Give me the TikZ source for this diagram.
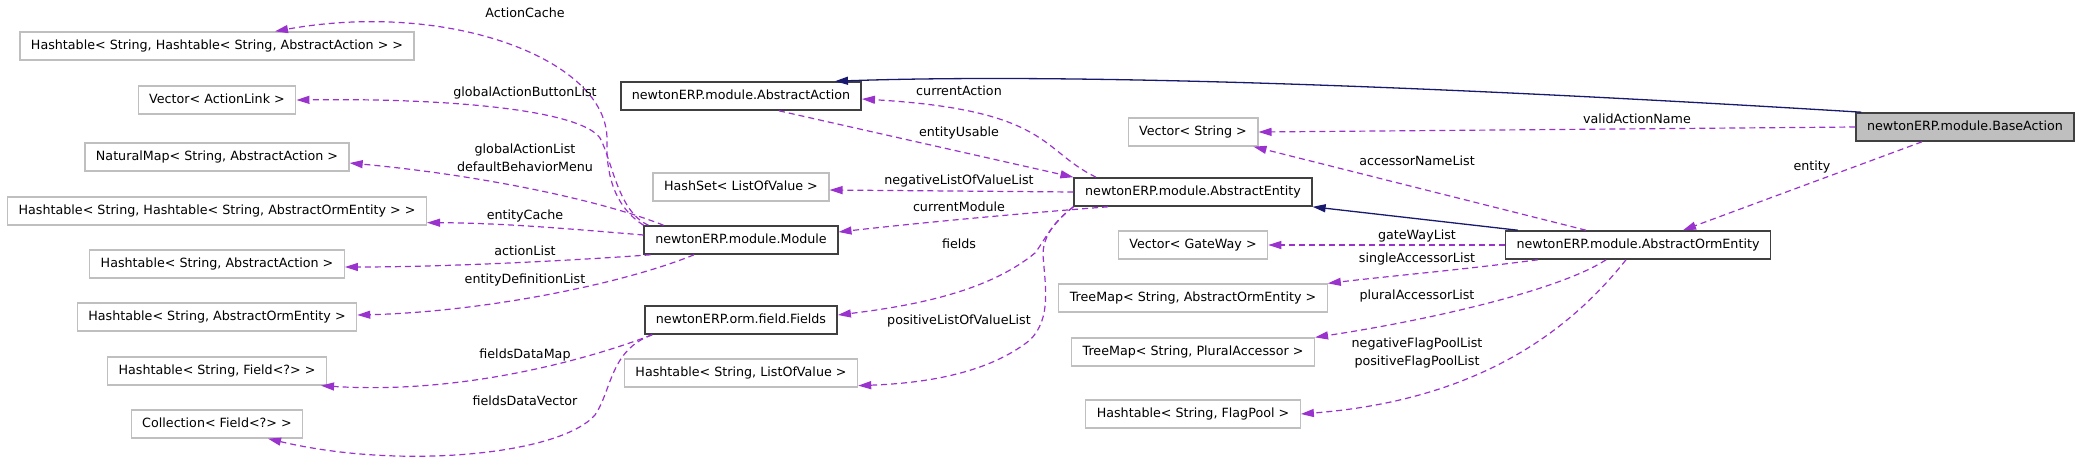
\documentclass[tikz,border=0pt]{standalone}
\usepackage{fontspec}
\setmainfont{DejaVu Sans}
\usetikzlibrary{arrows.meta}
\definecolor{edgepurple}{HTML}{9A32CD}
\definecolor{edgeblue}{HTML}{191970}

\begin{document}
\begin{tikzpicture}[x=1pt,y=-1pt,
		every node/.style={font=\fontsize{12.7}{18}\selectfont},
		klass/.style={draw=black!75,line width=1.6pt,inner xsep=11pt,inner ysep=0pt,minimum height=28pt,text height=9.5pt,text depth=2.5pt},
		ext/.style={klass,draw=black!25,line width=1.3pt},
		member/.style={draw=edgepurple,line width=1.2pt,dash pattern=on 6pt off 4pt,-{Triangle[length=13pt,width=8pt]}},
		inherit/.style={draw=edgeblue,line width=1.3pt,-{Triangle[length=13pt,width=8pt]}},
		lbl/.style={inner sep=0pt,align=center}]
		\useasboundingbox (0,0) rectangle (2080,464);
		
		\node[ext] (hashHashAction) at (217,46) {Hashtable< String, Hashtable< String, AbstractAction > >};
		\node[ext] (vecActionLink) at (217,100) {Vector< ActionLink >};
		\node[ext] (naturalMap) at (217,157) {NaturalMap< String, AbstractAction >};
		\node[ext] (hashHashOrm) at (217,211) {Hashtable< String, Hashtable< String, AbstractOrmEntity > >};
		\node[ext] (hashAction) at (217,264) {Hashtable< String, AbstractAction >};
		\node[ext] (hashOrm) at (217,317) {Hashtable< String, AbstractOrmEntity >};
		\node[ext] (hashField) at (217,371) {Hashtable< String, Field<?> >};
		\node[ext] (collField) at (217,424) {Collection< Field<?> >};
		
		\node[klass] (abstractAction) at (741,96) {newtonERP.module.AbstractAction};
		\node[ext] (hashSetLov) at (741,187) {HashSet< ListOfValue >};
		\node[klass] (module) at (741,240) {newtonERP.module.Module};
		\node[klass] (fields) at (741,320) {newtonERP.orm.field.Fields};
		\node[ext] (hashLov) at (741,373) {Hashtable< String, ListOfValue >};
		
		\node[ext] (vecString) at (1193,132) {Vector< String >};
		\node[klass] (abstractEntity) at (1193,192) {newtonERP.module.AbstractEntity};
		\node[ext] (vecGateway) at (1193,245) {Vector< GateWay >};
		\node[ext] (treeOrm) at (1193,298) {TreeMap< String, AbstractOrmEntity >};
		\node[ext] (treePlural) at (1193,352) {TreeMap< String, PluralAccessor >};
		\node[ext] (hashFlag) at (1193,414) {Hashtable< String, FlagPool >};
		
		\node[klass] (abstractOrm) at (1638,245) {newtonERP.module.AbstractOrmEntity};
		\node[klass,fill=black!25] (baseAction) at (1965,127) {newtonERP.module.BaseAction};
		
		\draw[inherit] ([xshift=6pt]baseAction.north west) .. controls (1500,90) and (1100,72) .. ([xshift=94pt]abstractAction.north);
		\draw[inherit] ([xshift=13pt]abstractOrm.north west) -- (abstractEntity.south east);
		
		\draw[member] (module.north west) .. controls (612,205) and (606,170) .. (607,140) .. controls (608,60) and (450,0) .. ([xshift=58pt]hashHashAction.north);
		\draw[member] ([xshift=5pt]module.north west) .. controls (618,212) and (612,160) .. (600,138) .. controls (580,110) and (450,98) .. (vecActionLink.east);
		\draw[member] ([xshift=20pt]module.north west) .. controls (600,200) and (480,175) .. ([yshift=-6pt]naturalMap.east);
		\draw[member] ([yshift=5pt]module.west) .. controls (560,228) and (500,223) .. ([yshift=3pt]hashHashOrm.south east);
		\draw[member] ([xshift=7pt]module.south west) .. controls (580,260) and (450,267) .. ([yshift=-3pt]hashAction.east);
		\draw[member] ([xshift=-47pt]module.south) .. controls (620,285) and (480,312) .. ([yshift=2pt]hashOrm.east);
		\draw[member] ([xshift=8pt]fields.south west) .. controls (600,355) and (470,395) .. ([xshift=-6pt]hashField.south east);
		\draw[member] ([xshift=8pt]fields.south west) .. controls (610,350) and (612,390) .. (595,415) .. controls (560,455) and (400,470) .. ([xshift=51pt]collField.south);
		
		\draw[member] ([xshift=-97pt]abstractEntity.north) .. controls (1040,150) and (1050,110) .. ([yshift=-3pt]abstractAction.east);
		\draw[member] ([xshift=38pt]abstractAction.south) -- (abstractEntity.north west);
		\draw[member] (abstractEntity.west) -- ([yshift=-3pt]hashSetLov.east);
		\draw[member] ([xshift=-85pt]abstractEntity.south) .. controls (1000,215) and (900,225) .. ([yshift=8pt]module.east);
		\draw[member] (abstractEntity.south west) .. controls (1050,225) and (1045,240) .. (1035,253) .. controls (990,290) and (920,305) .. ([yshift=5pt]fields.east);
		\draw[member] (abstractEntity.south west) .. controls (1050,225) and (1043,240) .. (1043,255) .. controls (1045,285) and (1052,318) .. (1030,340) .. controls (990,372) and (930,383) .. ([yshift=2pt]hashLov.south east);
		
		\draw[member] (baseAction.west) -- (vecString.east);
		\draw[member] ([xshift=-52pt]abstractOrm.north) -- ([xshift=-5pt]vecString.south east);
		\draw[member] ([xshift=-43pt]baseAction.south) -- ([xshift=45pt]abstractOrm.north);
		\draw[member] (abstractOrm.west) -- (vecGateway.east);
		\draw[member] ([xshift=33pt]abstractOrm.south west) .. controls (1460,270) and (1390,276) .. (treeOrm.north east);
		\draw[member] ([xshift=-32pt]abstractOrm.south) .. controls (1560,290) and (1430,320) .. (treePlural.north east);
		\draw[member] ([xshift=-12pt]abstractOrm.south) .. controls (1570,330) and (1480,400) .. (hashFlag.east);
		
		\node[lbl] (lActionCache) at (525,13) {ActionCache};
		\node[lbl] (lButtonList) at (525,93) {globalActionButtonList};
		\node[lbl] (lActionList) at (525,158) {globalActionList\\defaultBehaviorMenu};
		\node[lbl] (lEntityCache) at (525,216) {entityCache};
		\node[lbl] (lLocalActions) at (525,251) {actionList};
		\node[lbl] (lDefinitions) at (525,280) {entityDefinitionList};
		\node[lbl] (lDataMap) at (525,355) {fieldsDataMap};
		\node[lbl] (lDataVector) at (525,401) {fieldsDataVector};
		\node[lbl] (lCurrentAction) at (959,91) {currentAction};
		\node[lbl] (lUsable) at (959,133) {entityUsable};
		\node[lbl] (lNegativeLov) at (959,181) {negativeListOfValueList};
		\node[lbl] (lCurrentModule) at (959,207) {currentModule};
		\node[lbl] (lFields) at (959,244) {fields};
		\node[lbl] (lPositiveLov) at (959,321) {positiveListOfValueList};
		\node[lbl] (lValidName) at (1637,119) {validActionName};
		\node[lbl] (lAccessorNames) at (1417,161) {accessorNameList};
		\node[lbl] (lEntity) at (1812,167) {entity};
		\node[lbl] (lGateways) at (1417,236) {gateWayList};
		\node[lbl] (lSingle) at (1417,259) {singleAccessorList};
		\node[lbl] (lPlural) at (1417,296) {pluralAccessorList};
		\node[lbl] (lFlagPools) at (1417,353) {negativeFlagPoolList\\positiveFlagPoolList};
\end{tikzpicture}
\end{document}
